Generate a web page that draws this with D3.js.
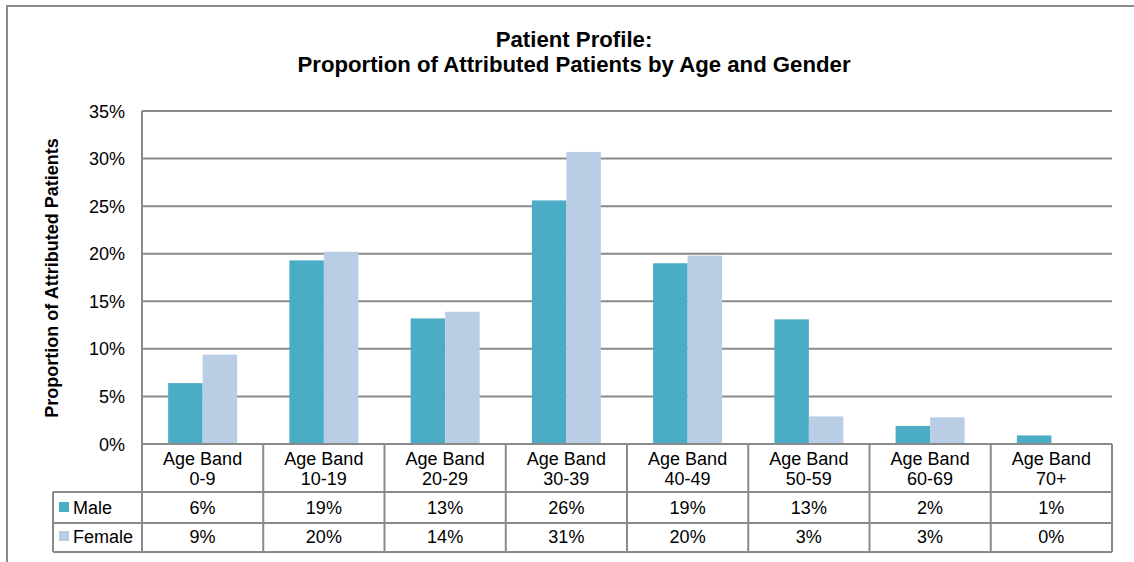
<!DOCTYPE html>
<html>
<head>
<meta charset="utf-8">
<script src="https://cdn.jsdelivr.net/npm/d3@7"></script>
<style>
  body { margin: 0; background: #fff; }
  svg { display: block; font-family: "Liberation Sans", Arial, sans-serif; }
</style>
</head>
<body>
<div id="chart"></div>
<script>
// Age bands (two-line category labels)
const bands = ['0-9', '10-19', '20-29', '30-39', '40-49', '50-59', '60-69', '70+'];
const seriesNames = ['Male', 'Female'];
// Percent of attributed patients
const maleValues = [6.4, 19.3, 13.2, 25.6, 19.0, 13.1, 1.9, 0.9];
const femaleValues = [9.4, 20.2, 13.9, 30.7, 19.8, 2.9, 2.8, 0];
const yTicks = [0, 5, 10, 15, 20, 25, 30, 35];
const titleLines = ['Patient Profile:', 'Proportion of Attributed Patients by Age and Gender'];
const yTitle = 'Proportion of Attributed Patients';

const colors = { Male: '#4bacc6', Female: '#b9cde5' };
const lineColor = '#8a8a8a';

const W = 1134, H = 562;
const plot = { left: 142, right: 1112, top: 111, bottom: 444 };
const table = { legendLeft: 53, headerBottom: 492, row1Bottom: 523, row2Bottom: 552 };

const svg = d3.select('#chart').append('svg')
  .attr('width', W)
  .attr('height', H);

// Outer chart border (right/bottom run off the picture)
svg.append('rect')
  .attr('x', 7).attr('y', 6)
  .attr('width', W + 20).attr('height', H + 20)
  .attr('fill', '#fff')
  .attr('stroke', lineColor)
  .attr('stroke-width', 2);

// Title
svg.append('g').selectAll('text')
  .data(titleLines)
  .join('text')
  .attr('x', 574)
  .attr('y', (d, i) => 47 + i * 25)
  .attr('text-anchor', 'middle')
  .attr('font-size', 22.2)
  .attr('font-weight', 'bold')
  .attr('fill', '#000')
  .text(d => d);

// Scales
const y = d3.scaleLinear().domain([0, 35]).range([plot.bottom, plot.top]);
const x0 = d3.scaleBand().domain(bands).range([plot.left, plot.right]);
const bw = x0.bandwidth();
const gap = bw * 0.431;
const x1 = d3.scaleBand().domain(seriesNames).range([gap / 2, bw - gap / 2]);

// Gridlines
svg.append('g').selectAll('line')
  .data(yTicks.filter(t => t > 0))
  .join('line')
  .attr('x1', plot.left).attr('x2', plot.right)
  .attr('y1', d => y(d)).attr('y2', d => y(d))
  .attr('stroke', lineColor)
  .attr('stroke-width', 2);

// Y tick labels
svg.append('g').selectAll('text')
  .data(yTicks)
  .join('text')
  .attr('x', 125)
  .attr('y', d => y(d) + 6.5)
  .attr('text-anchor', 'end')
  .attr('font-size', 18)
  .attr('fill', '#000')
  .text(d => d + '%');

// Y axis title
svg.append('text')
  .attr('transform', 'translate(58,278) rotate(-90)')
  .attr('text-anchor', 'middle')
  .attr('font-size', 18)
  .attr('font-weight', 'bold')
  .attr('fill', '#000')
  .text(yTitle);

// Bars
const rows = bands.map((b, i) => ({ band: b, Male: maleValues[i], Female: femaleValues[i] }));
svg.append('g').selectAll('g')
  .data(rows)
  .join('g')
  .attr('transform', d => 'translate(' + x0(d.band) + ',0)')
  .selectAll('rect')
  .data(d => seriesNames.map(s => ({ key: s, value: d[s] })))
  .join('rect')
  .attr('x', d => x1(d.key))
  .attr('width', x1.bandwidth())
  .attr('y', d => y(d.value))
  .attr('height', d => y(0) - y(d.value))
  .attr('fill', d => colors[d.key]);

// Data table
const tg = svg.append('g');
const seriesValues = { Male: maleValues, Female: femaleValues };
const rowBottoms = [table.row1Bottom, table.row2Bottom];

// Horizontal table lines
tg.append('line')
  .attr('x1', plot.left).attr('x2', plot.right)
  .attr('y1', plot.bottom).attr('y2', plot.bottom)
  .attr('stroke', lineColor).attr('stroke-width', 2);
[table.headerBottom, table.row1Bottom, table.row2Bottom].forEach(yy => {
  tg.append('line')
    .attr('x1', table.legendLeft).attr('x2', plot.right)
    .attr('y1', yy).attr('y2', yy)
    .attr('stroke', lineColor).attr('stroke-width', 2);
});

// Vertical table lines
tg.append('line')
  .attr('x1', table.legendLeft).attr('x2', table.legendLeft)
  .attr('y1', table.headerBottom).attr('y2', table.row2Bottom)
  .attr('stroke', lineColor).attr('stroke-width', 2);
tg.append('line')
  .attr('x1', plot.left).attr('x2', plot.left)
  .attr('y1', plot.top).attr('y2', table.row2Bottom)
  .attr('stroke', lineColor).attr('stroke-width', 2);
tg.selectAll('line.col')
  .data(bands)
  .join('line')
  .attr('class', 'col')
  .attr('x1', d => x0(d) + bw).attr('x2', d => x0(d) + bw)
  .attr('y1', plot.bottom).attr('y2', table.row2Bottom)
  .attr('stroke', lineColor).attr('stroke-width', 2);

// Header cells
const head = tg.selectAll('text.head')
  .data(bands)
  .join('text')
  .attr('class', 'head')
  .attr('text-anchor', 'middle')
  .attr('font-size', 18)
  .attr('fill', '#000');
head.append('tspan')
  .attr('x', d => x0(d) + bw / 2).attr('y', 465)
  .text('Age Band');
head.append('tspan')
  .attr('x', d => x0(d) + bw / 2).attr('y', 485)
  .text(d => d);

// Series rows
seriesNames.forEach((s, si) => {
  const baseY = rowBottoms[si] - 9;
  tg.append('rect')
    .attr('x', 59).attr('y', baseY - 12)
    .attr('width', 10).attr('height', 10)
    .attr('fill', colors[s]);
  tg.append('text')
    .attr('x', 73).attr('y', baseY)
    .attr('font-size', 18)
    .attr('fill', '#000')
    .text(s);
  tg.selectAll('text.v' + s)
    .data(seriesValues[s])
    .join('text')
    .attr('class', 'v' + s)
    .attr('x', (d, i) => x0(bands[i]) + bw / 2)
    .attr('y', baseY)
    .attr('text-anchor', 'middle')
    .attr('font-size', 18)
    .attr('fill', '#000')
    .text(d => Math.round(d) + '%');
});
</script>
</body>
</html>
